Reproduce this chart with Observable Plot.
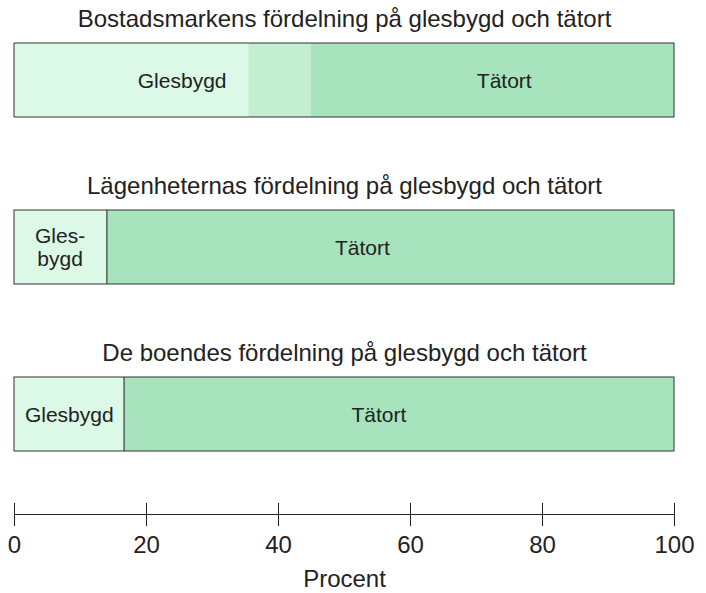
<!DOCTYPE html>
<html>
<head>
<meta charset="utf-8">
<script src="https://cdn.jsdelivr.net/npm/d3@7"></script>
<script src="https://cdn.jsdelivr.net/npm/@observablehq/plot@0.6"></script>
<style>
  html, body { margin: 0; padding: 0; background: #fff; }
  #chart { width: 706px; height: 593px; }
</style>
</head>
<body>
<div id="chart"></div>
<script>
// Chart titles (one per bar)
const charts = [
  "Bostadsmarkens fördelning på glesbygd och tätort",
  "Lägenheternas fördelning på glesbygd och tätort",
  "De boendes fördelning på glesbygd och tätort"
];
// Parts of each bar
const parts = ["Glesbygd", "Mellanzon", "Tätort"];
const glesbygd = [35.5, 14.0, 16.6];
const mellanzon = [9.5, 0, 0];
const tatort = [55.0, 86.0, 83.4];
// Whether the bar shows a divider line between Glesbygd and Tätort
const divider = [false, true, true];
// Segment labels: chart index, text, position (percent)
const labelChart = [0, 0, 1, 1, 2, 2];
const labelText = ["Glesbygd", "Tätort", "Gles-\nbygd", "Tätort", "Glesbygd", "Tätort"];
const labelPos = [25.4, 74.2, 6.9, 52.7, 8.3, 55.2];
// Axis ticks
const xTicks = [0, 20, 40, 60, 80, 100];
const axisLabel = "Procent";

const colors = ["#dcf8e6", "#c3eed1", "#a7e4bd"];

const segments = [];
charts.forEach((c, i) => {
  segments.push({chart: c, part: parts[0], value: glesbygd[i]});
  segments.push({chart: c, part: parts[1], value: mellanzon[i]});
  segments.push({chart: c, part: parts[2], value: tatort[i]});
});
const dividers = charts.map((c, i) => ({chart: c, x: glesbygd[i], show: divider[i]})).filter(d => d.show);
const labels = labelText.map((t, i) => ({chart: charts[labelChart[i]], text: t, x: labelPos[i]}));

const font = "Liberation Sans, Arial, Helvetica, sans-serif";

const plot = Plot.plot({
  width: 706,
  height: 593,
  marginLeft: 14,
  marginRight: 32,
  marginTop: 0,
  marginBottom: 79,
  style: {fontFamily: font, background: "#fff", color: "#222"},
  x: {domain: [0, 100]},
  y: {domain: charts, range: [42, 451], paddingInner: 0.558, paddingOuter: 0, axis: null},
  color: {domain: parts, range: colors},
  marks: [
    Plot.barX(segments, Plot.stackX({x: "value", y: "chart", fill: "part", order: parts})),
    Plot.tickX(dividers, {x: "x", y: "chart", stroke: "#222", strokeWidth: 1}),
    Plot.barX(charts, {x1: 0, x2: 100, y: d => d, fill: "none", stroke: "#333", strokeWidth: 1}),
    Plot.text(charts, {y: d => d, frameAnchor: "middle", text: d => d, dy: -61, fontSize: 24, fill: "#222"}),
    Plot.text(labels, {x: "x", y: "chart", text: "text", fontSize: 21, fill: "#222", lineHeight: 1.1}),
    Plot.frame({anchor: "bottom", stroke: "#222"}),
    Plot.ruleX(xTicks, {x: d => d, insetTop: 503, stroke: "#222"}),
    Plot.axisX({ticks: xTicks, tickSize: 12, tickPadding: 9, fontSize: 24, label: null, stroke: "#222", fill: "#222"}),
    Plot.text([axisLabel], {frameAnchor: "bottom", text: d => d, dy: 72, fontSize: 24, fill: "#222"})
  ]
});

document.getElementById("chart").appendChild(plot);
</script>
</body>
</html>
